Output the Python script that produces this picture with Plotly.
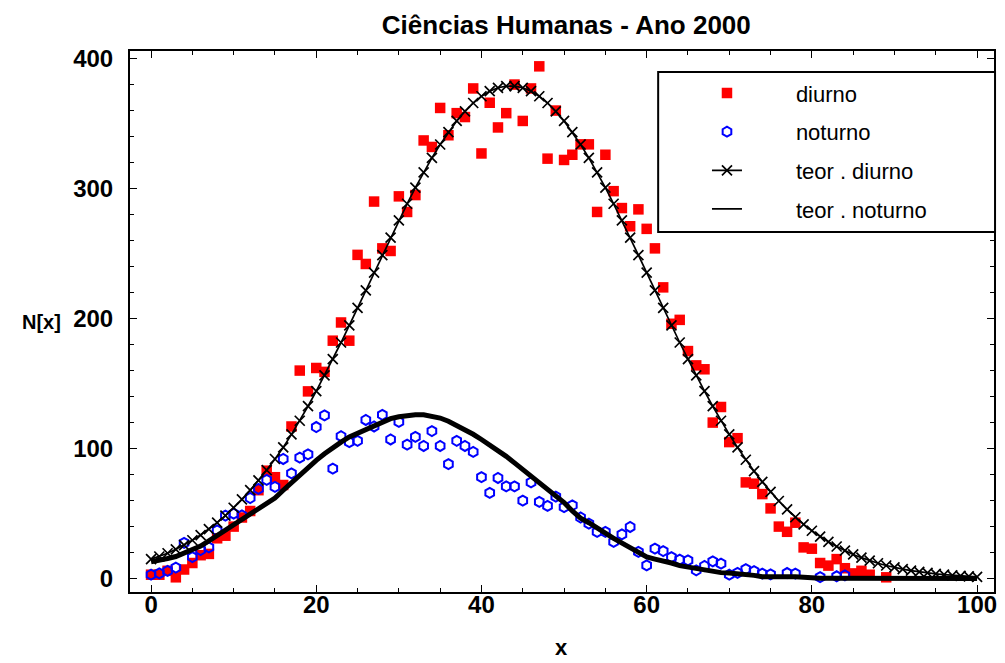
import plotly.graph_objects as go

# ---- data ----
x_data = list(range(0, 90))
diurno = [3, 3, 6, 1, 7, 12, 18, 19, 31, 33,
          40, 47, 52, 68, 83, 78, 72, 117, 160, 144,
          162, 159, 183, 197, 183, 249, 242, 290, 254, 252,
          294, 282, 295, 337, 332, 362, 341, 358, 355, 377,
          327, 366, 347, 358, 380, 352, 377, 394, 323, 360,
          322, 326, 334, 334, 282, 326, 298, 285, 271, 284,
          269, 254, 224, 196, 199, 175, 164, 161, 120, 132,
          105, 108, 74, 73, 65, 54, 40, 36, 43, 24,
          23, 12, 10, 15, 8, 4, 6, 3, None, 1]

x_not = list(range(0, 85))
noturno = [3, 4, 6, 8.5, 27.5, 16.6, 22, 24, 37, 48.5,
           50, 48.7, 62, 69, 76, 70.5, 92, 81, 93, 95.6,
           116.6, 125.6, 84.6, 109.5, 105, 106, 122, 117, 126, 107,
           120.5, 103, 109, 102, 113.5, 102, 88, 106, 102, 97.4,
           78, 66, 77.4, 71, 71, 60, 74, 59, 56, 63,
           55, 56.4, 47, 42.3, 36, 36, 28.2, 34, 39.7, 20.5,
           10.2, 23, 21.2, 16.6, 14.6, 14, 6.4, 9.7, 13.3, 11.5,
           3, 4.4, 7.3, 5.8, 3.8, 3.3, None, 4.3, 3.8, None,
           None, 1.2, None, 1.8, 2.5]

x_teor = list(range(0, 101))
teor_diurno = [15, 17, 19.5, 22.5, 25.8, 29.5, 33.5, 38, 43, 48.5,
               54.5, 61, 68, 75.5, 83.5, 92, 100.9, 110.9, 121.4, 132.6,
               144.2, 156.3, 168.8, 181.6, 194.8, 208.2, 221.7, 235.3, 248.8, 262.3,
               275.5, 288.3, 300.7, 312.5, 323.6, 333.9, 343.4, 352.0, 359.4, 365.8,
               371.0, 374.9, 377.5, 378.8, 378.8, 377.5, 374.9, 371.0, 365.8, 359.4,
               352.0, 343.4, 333.9, 323.6, 312.5, 300.7, 288.3, 275.5, 262.3, 248.8,
               235.3, 221.7, 208.2, 194.8, 181.6, 168.8, 156.3, 144.2, 132.6, 121.4,
               110.9, 100.9, 91.4, 82.6, 74.4, 66.7, 59.7, 53.2, 47.2, 41.7,
               36.8, 32.3, 28.3, 24.7, 21.5, 18.6, 16.1, 13.8, 11.8, 10.1,
               8.6, 7.3, 6.2, 5.2, 4.4, 3.7, 3.0, 2.5, 2.1, 1.7, 1.4]
teor_noturno = [13, 14, 15.5, 17, 19.5, 22, 25, 29, 33, 37,
                41, 45, 49, 53, 57, 62, 68, 74, 80, 86,
                91, 96, 101, 105, 109, 112, 115, 118, 121, 123,
                124.5, 125.5, 126, 126, 125, 123.5, 121, 118, 115, 111,
                107, 103, 99, 94, 89, 84, 78, 73, 68, 63.5,
                58.5, 52, 46.5, 43, 39.5, 35, 31, 27.5, 24, 20,
                16.6, 15, 13.8, 12, 10, 9, 7.7, 6.5, 5.2, 4.6,
                4.3, 3.8, 3.5, 2.5, 1.5, 1.2, 1.2, 1.5, 1.5, 0.8,
                0.3, 0.2, 0.2, 0.2, 0.2, 0.2, 0.2, 0.1, 0.1, 0.1,
                0.1, 0.1, 0.1, 0.1, 0.1, 0.1, 0.1, 0.1, 0.1, 0.1, 0.1]

names = ["diurno", "noturno", "teor . diurno", "teor . noturno"]
title_text = "Ciências Humanas - Ano 2000"
x_ticks = [0, 20, 40, 60, 80, 100]
y_ticks = [0, 100, 200, 300, 400]

FONT = "Liberation Sans, Arial, sans-serif"
PAD = "&nbsp;" * 8   # gap between legend symbol and legend text

fig = go.Figure()
fig.add_trace(go.Scatter(x=x_data, y=diurno, mode="markers", name=PAD + names[0],
                         legendgroup="a",
                         marker=dict(symbol="square", size=10.5, color="#ff0000",
                                     line=dict(width=0))))
fig.add_trace(go.Scatter(x=x_not, y=noturno, mode="markers", name=PAD + names[1],
                         legendgroup="b",
                         marker=dict(symbol="hexagon-open", size=10, color="#0000ff",
                                     line=dict(width=2, color="#0000ff"))))
fig.add_trace(go.Scatter(x=x_teor, y=teor_diurno, mode="lines+markers", name=PAD + names[2],
                         legendgroup="c",
                         line=dict(color="black", width=1.7),
                         marker=dict(symbol="x-thin-open", size=10, color="black",
                                     line=dict(width=1.7, color="black"))))
fig.add_trace(go.Scatter(x=x_teor, y=teor_noturno, mode="lines", name=names[3],
                         legendgroup="d", showlegend=False,
                         line=dict(color="black", width=5)))
# legend entry for the thick curve (drawn thin in the reference legend)
fig.add_trace(go.Scatter(x=[None], y=[None], mode="lines", name=PAD + names[3],
                         legendgroup="d", line=dict(color="black", width=1.7)))

axis_common = dict(showline=True, linecolor="black", linewidth=2, mirror="allticks",
                   ticks="inside", ticklen=7, tickwidth=1, tickcolor="black",
                   showgrid=False, zeroline=False,
                   tickfont=dict(family=FONT, size=24, color="black", weight="bold"))

fig.update_xaxes(range=[-2.55, 102.05], tickvals=x_ticks, ticklabelstandoff=-10,
                 minor=dict(dtick=5, ticks="inside", ticklen=4, tickwidth=1,
                            tickcolor="black", showgrid=False),
                 **axis_common)
fig.update_yaxes(range=[-10.3, 405.8], tickvals=y_ticks, ticklabelstandoff=10,
                 minor=dict(dtick=20, ticks="inside", ticklen=4, tickwidth=1,
                            tickcolor="black", showgrid=False),
                 **axis_common)

fig.update_layout(
    width=1005, height=663,
    margin=dict(l=130, r=8, t=51, b=71),
    paper_bgcolor="white", plot_bgcolor="white",
    font=dict(family=FONT, color="black"),
    title=dict(text="<b>" + title_text + "</b>", x=0.5635, xanchor="center",
               y=0.962, yanchor="middle",
               font=dict(family=FONT, size=26, color="black")),
    showlegend=True,
    legend=dict(x=0.6678, y=0.9606, xanchor="left", yanchor="top",
                borderwidth=0, bgcolor="rgba(0,0,0,0)",
                font=dict(family=FONT, size=22, color="black"),
                traceorder="grouped", tracegroupgap=7),
    shapes=[dict(type="rect", xref="paper", yref="paper",
                 x0=0.6113, x1=1.0012, y0=0.6654, y1=0.9612,
                 line=dict(color="black", width=2), fillcolor="white",
                 layer="above")],
    annotations=[
        dict(text="<b>x</b>", xref="paper", yref="paper", x=0.4995, y=-0.1035,
             xanchor="center", yanchor="middle", showarrow=False,
             font=dict(family=FONT, size=22, color="black")),
        dict(text="<b>N[x]</b>", xref="paper", yref="paper", x=-0.103, y=0.499,
             xanchor="center", yanchor="middle", showarrow=False,
             font=dict(family=FONT, size=20, color="black")),
    ],
)

fig.write_html("out.html")
